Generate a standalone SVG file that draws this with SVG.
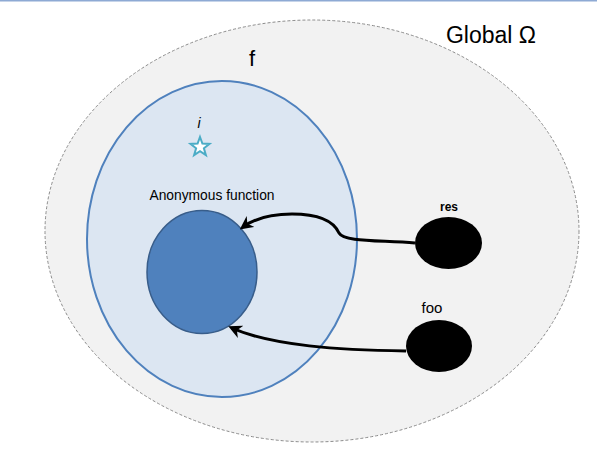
<svg xmlns="http://www.w3.org/2000/svg" width="597" height="449" viewBox="0 0 597 449">
<defs>
<style>
.t{font-family:"Liberation Sans","Noto Sans",Arial,sans-serif;fill:#000}
.conn{fill:none;stroke:#000;stroke-width:3}
</style>
<marker id="ah" viewBox="0 0 10 10" refX="7" refY="5" markerWidth="4.5" markerHeight="4.5" orient="auto" markerUnits="strokeWidth">
<path d="M0,0 L10,5 L0,10 L3,5 Z" fill="#000"/>
</marker>
</defs>
<rect width="597" height="449" fill="#fff"/>
<line x1="0" y1="0.75" x2="597" y2="0.75" stroke="#8eaad4" stroke-width="1.5"/>
<g id="global">
<ellipse cx="312" cy="231" rx="267" ry="211" fill="#f2f2f2" stroke="#8c8c8c" stroke-width="1" stroke-dasharray="3,2"/>
<text class="t" x="491" y="43" font-size="23" text-anchor="middle">Global Ω</text>
</g>
<g id="f">
<ellipse cx="222" cy="239" rx="135" ry="158" fill="#dce6f2" stroke="#4f81bd" stroke-width="2"/>
<text class="t" x="252" y="66" font-size="22" text-anchor="middle">f</text>
</g>
<g id="i">
<text class="t" x="199" y="128" font-size="14" font-style="italic" fill="#5a4a3a" text-anchor="middle">i</text>
<polygon points="200,137 202.4,143.6 209.5,143.9 203.9,148.3 205.9,155.1 200,151.2 194.1,155.1 196.1,148.3 190.5,143.9 197.6,143.6" fill="#fff" stroke="#4bacc6" stroke-width="2"/>
</g>
<g id="anon">
<text class="t" x="212" y="200" font-size="13.8" text-anchor="middle">Anonymous function</text>
<ellipse cx="202" cy="272" rx="55" ry="61.5" fill="#4f81bd" stroke="#385d8a" stroke-width="1.5"/>
</g>
<g id="res">
<text class="t" x="449" y="211" font-size="12" font-weight="bold" text-anchor="middle">res</text>
<ellipse cx="448.5" cy="243" rx="33.5" ry="26" fill="#000"/>
</g>
<g id="foo">
<text class="t" x="432" y="313" font-size="15" text-anchor="middle">foo</text>
<ellipse cx="439" cy="346" rx="33" ry="26" fill="#000"/>
</g>
<g id="connectors">
<path class="conn" d="M415,243 C380,240 344,242 339,233 C334,222 320,214 292,214 C268,214 254,219 243,227" marker-end="url(#ah)"/>
<path class="conn" d="M406,351 C340,350 272,346 232,328" marker-end="url(#ah)"/>
</g>
</svg>
